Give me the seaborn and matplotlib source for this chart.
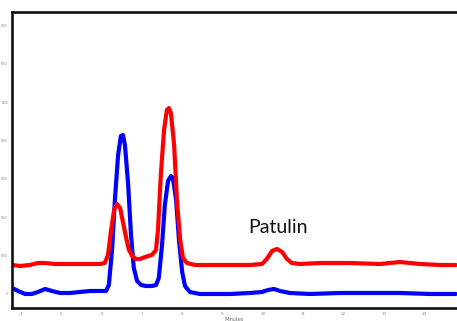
import matplotlib
matplotlib.use("Agg")
import matplotlib.pyplot as plt
import seaborn as sns
import pandas as pd

# Blue trace (minutes, intensity)
blue_min = [3.78, 3.93, 4.10, 4.27, 4.42, 4.60, 4.77, 4.97, 5.22, 5.46, 5.71, 5.96, 6.11, 6.18,
            6.26, 6.33, 6.41, 6.48, 6.53, 6.58, 6.66, 6.73, 6.80, 6.88, 6.98, 7.10, 7.25, 7.35,
            7.42, 7.50, 7.57, 7.65, 7.72, 7.77, 7.85, 7.92, 8.00, 8.07, 8.19, 8.44, 8.81, 9.19,
            9.68, 9.98, 10.13, 10.28, 10.43, 10.67, 11.17, 11.92, 12.66, 13.40, 14.15, 14.79]
blue_int = [156, 78, 0, 0, 52, 130, 78, 26, 26, 52, 78, 78, 78, 234,
            1146, 2448, 3620, 4115, 4141, 3880, 2839, 1536, 677, 339, 234, 208, 208, 234,
            417, 1276, 2318, 2943, 3073, 3021, 2448, 1406, 573, 208, 52, 0, 0, 0,
            26, 52, 104, 130, 78, 26, 0, 26, 26, 26, 0, 0]

# Red trace (minutes, intensity)
red_min = [3.78, 3.98, 4.22, 4.42, 4.60, 4.84, 5.22, 5.59, 5.96, 6.08, 6.16, 6.23, 6.31, 6.38,
           6.46, 6.53, 6.61, 6.68, 6.76, 6.85, 6.95, 7.08, 7.25, 7.35, 7.40, 7.47, 7.55, 7.62,
           7.67, 7.72, 7.80, 7.87, 7.95, 8.02, 8.12, 8.32, 8.69, 9.19, 9.68, 9.98, 10.10, 10.23,
           10.35, 10.48, 10.60, 10.72, 10.92, 11.42, 12.16, 12.91, 13.40, 13.90, 14.40, 14.79]
red_int = [755, 729, 755, 807, 807, 781, 781, 781, 781, 807, 1016, 1615, 2187, 2344,
           2240, 1875, 1458, 1146, 990, 911, 911, 963, 1016, 1146, 1667, 3099, 4271, 4791,
           4843, 4713, 3880, 2448, 1406, 937, 807, 755, 755, 755, 755, 781, 911, 1120,
           1172, 1094, 911, 807, 781, 807, 807, 781, 833, 781, 755, 755]

x_ticks = [4, 5, 6, 7, 8, 9, 10, 11, 12, 13, 14]
y_ticks = [0, 1000, 2000, 3000, 4000, 5000, 6000, 7000]
y_tick_labels = ["0", "1000", "2000", "3000", "4000", "5000", "6000", "7000"]
annotation = "Patulin"
x_label = "Minutes"

df = pd.concat([
    pd.DataFrame({"Minutes": blue_min, "Intensity": blue_int, "trace": "blue"}),
    pd.DataFrame({"Minutes": red_min, "Intensity": red_int, "trace": "red"}),
])

sns.set_style("white")
fig = plt.figure(figsize=(4.57, 3.21), dpi=100)
ax = fig.add_axes([12 / 457, 1 - 308 / 321, 1 - 12 / 457, (308 - 12) / 321])

sns.lineplot(data=df, x="Minutes", y="Intensity", hue="trace",
             palette={"blue": "#0000FF", "red": "#FF0000"}, linewidth=3.0,
             sort=False, legend=False, ax=ax)

ax.set_xlim(3.777, 14.82)
ax.set_ylim(-365, 7344)
ax.set_xticks(x_ticks)
ax.set_xticklabels([str(t) for t in x_ticks], fontsize=3, color="#888888")
ax.set_yticks(y_ticks)
ax.set_yticklabels(y_tick_labels, fontsize=2, color="#888888")
ax.tick_params(axis="both", direction="out", length=2, width=0.6, color="#999999", pad=1)
ax.set_xlabel(x_label, fontsize=3.5, color="#666666", labelpad=0.5)
ax.set_ylabel("")

for side in ["left", "bottom", "top"]:
    ax.spines[side].set_visible(True)
    ax.spines[side].set_color("#111111")
    ax.spines[side].set_linewidth(1.9)
ax.spines["right"].set_visible(False)

ax.text(10.38, 1588, annotation, fontsize=14, family=["Lato", "DejaVu Sans"],
        color="#111111", ha="center", va="baseline")

fig.savefig("out.png", dpi=100)
